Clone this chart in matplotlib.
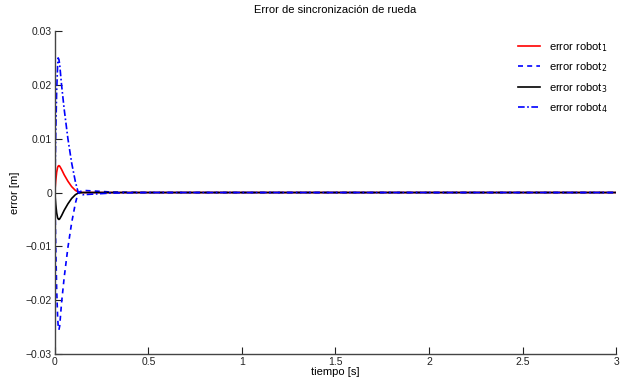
import numpy as np
import matplotlib.pyplot as plt

plt.rcParams['font.family'] = ['Liberation Sans', 'DejaVu Sans']

# tiempo [s]
t = [0, 0.005, 0.01, 0.015, 0.018, 0.022, 0.026, 0.036, 0.05, 0.07, 0.09,
     0.11, 0.125, 0.15, 0.2, 0.3, 0.5, 1.0, 3.0]

# error robot 1..4 [m]
e1 = [0, 0.0022, 0.0038, 0.0047, 0.0049, 0.005, 0.0049, 0.0043, 0.0033, 0.0021,
      0.0011, 0.0004, 0.0001, 0, 0, 0, 0, 0, 0]
e2 = [0, -0.010, -0.018, -0.023, -0.0248, -0.0255, -0.0248, -0.0205, -0.0158,
      -0.0102, -0.0056, -0.002, 0, 0.0004, 0.0003, 0.0001, 0, 0, 0]
e3 = [-x for x in e1]
e4 = [0, 0.011, 0.019, 0.0235, 0.025, 0.0247, 0.0238, 0.020, 0.0155, 0.010,
      0.0055, 0.002, 0, -0.0004, -0.0003, -0.0001, 0, 0, 0]

fig = plt.figure(figsize=(6.3, 3.87), dpi=100)
ax = fig.add_axes([0.087, 0.085, 0.891, 0.835])

ax.plot(t, e1, color='red', lw=1.2, label='error robot$_1$')
ax.plot(t, e2, color='blue', lw=1.2, ls=(0, (3, 2.5)), label='error robot$_2$')
ax.plot(t, e3, color='black', lw=1.2, label='error robot$_3$')
ax.plot(t, e4, color='blue', lw=1.2, ls=(0, (4, 1.5, 1, 1.5)), label='error robot$_4$')

ax.set_xlim(0, 3)
ax.set_ylim(-0.03, 0.03)
ax.set_xticks([0, 0.5, 1, 1.5, 2, 2.5, 3])
ax.set_xticklabels(['0', '0.5', '1', '1.5', '2', '2.5', '3'])
ax.set_yticks([-0.03, -0.02, -0.01, 0, 0.01, 0.02, 0.03])
ax.set_yticklabels(['\u22120.03', '\u22120.02', '\u22120.01', '0', '0.01', '0.02', '0.03'])
ax.tick_params(direction='in', length=5, width=0.8, labelsize=7.5, pad=2,
               colors='#222222')
ax.spines['top'].set_visible(False)
ax.spines['right'].set_visible(False)
for s in ['left', 'bottom']:
    ax.spines[s].set_color('#444444')
    ax.spines[s].set_linewidth(1.0)

ax.set_title('Error de sincronización de rueda', fontsize=8, pad=13)
ax.set_xlabel('tiempo [s]', fontsize=8, labelpad=0)
ax.set_ylabel('error [m]', fontsize=8, labelpad=4)
ax.legend(loc='upper right', frameon=False, fontsize=8, handlelength=2.0,
          borderaxespad=0.4, labelspacing=0.6, bbox_to_anchor=(1.0, 1.0))

fig.savefig('out.png', dpi=100)
